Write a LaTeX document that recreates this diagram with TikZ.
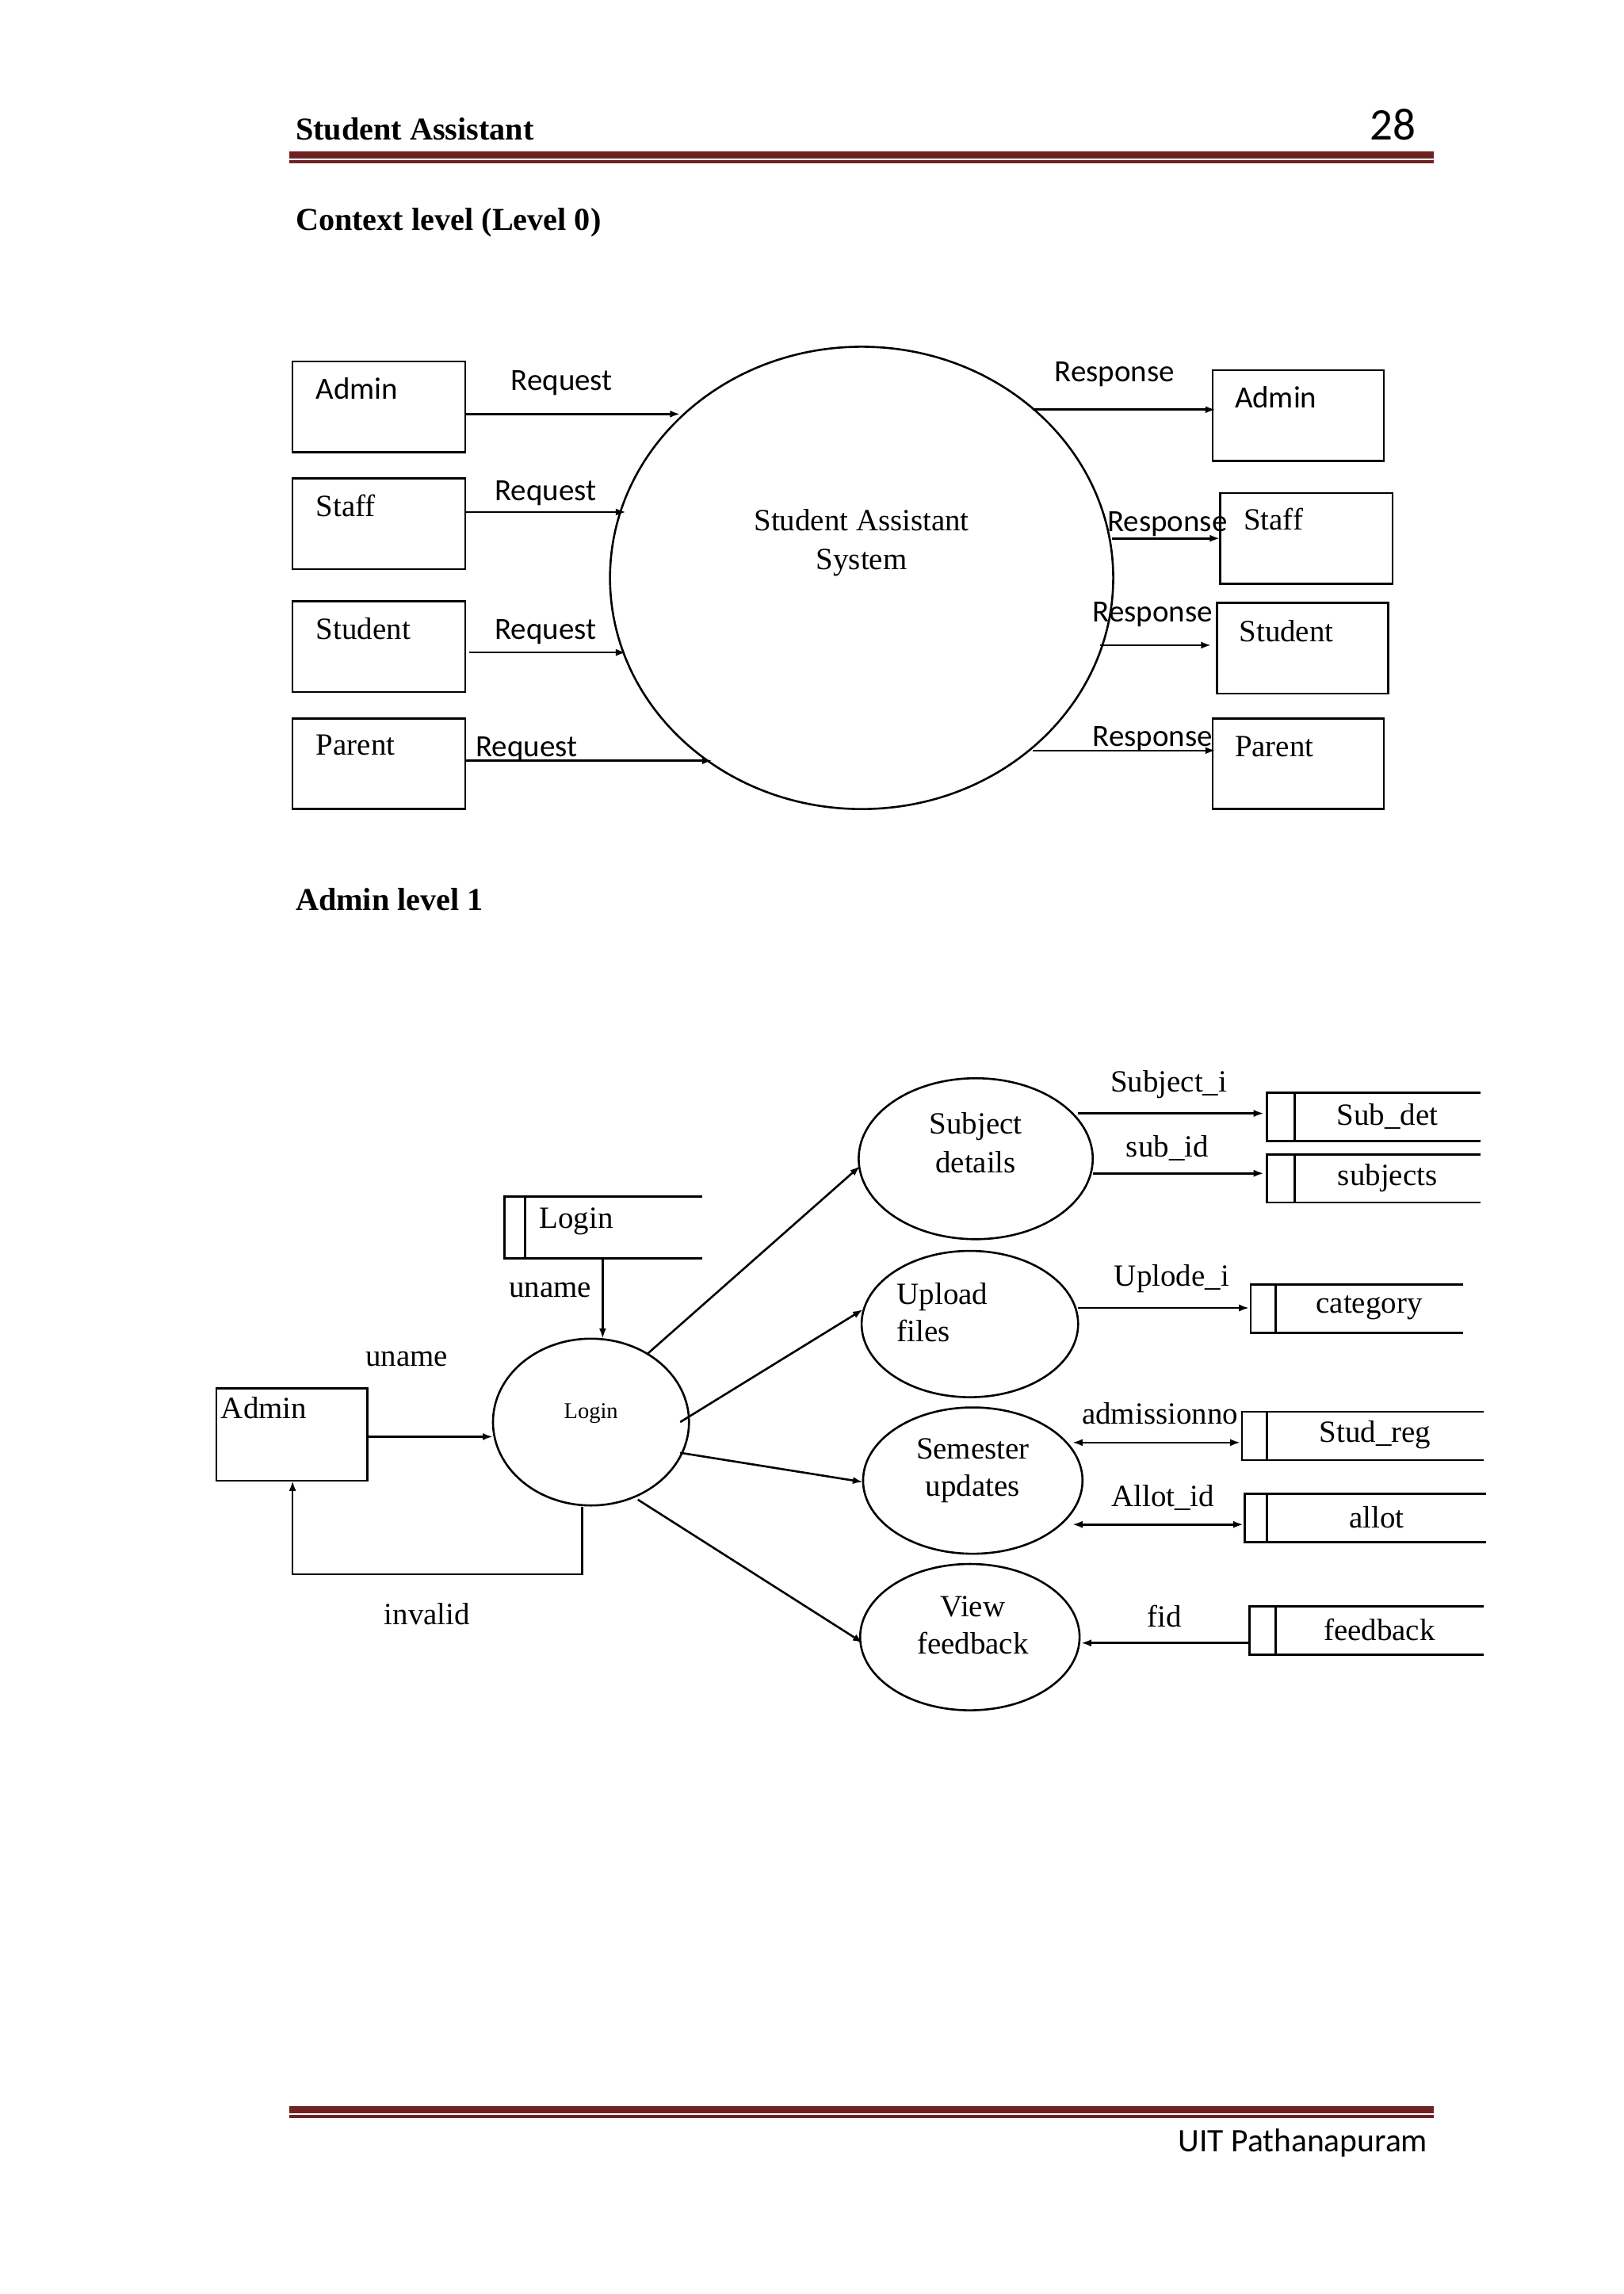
\documentclass[tikz,border=0pt]{standalone}
\usepackage{fontspec}
\setmainfont{Liberation Serif}
\newfontfamily\calfont{Carlito}
\usetikzlibrary{arrows.meta}
\definecolor{maroon}{RGB}{110,35,35}
\begin{document}
\begin{tikzpicture}[x=0.05cm,y=-0.05cm,
  txt/.style={font=\fontsize{30}{34}\selectfont,inner sep=0pt},
  ctxt/.style={font=\calfont\fontsize{30}{34}\selectfont,inner sep=0pt},
  ent/.style={draw,line width=2pt},
  arr/.style={-{Latex[length=10pt,width=7pt]},line width=2pt},
  barr/.style={{Latex[length=10pt,width=7pt]}-{Latex[length=10pt,width=7pt]},line width=2pt},
  ln/.style={line width=2pt}]
\useasboundingbox[fill=white] (0,0) rectangle (1110,1568);
% header
\node[txt,anchor=west,font=\bfseries\fontsize{31}{34}\selectfont] (h1) at (202,88) {Student Assistant};
\node[txt,anchor=east,font=\calfont\fontsize{44}{48}\selectfont] (h2) at (968,85) {28};
\fill[maroon] (198,103.5) rectangle (980,108.5);
\fill[maroon] (198,109.5) rectangle (980,111.5);
\node[txt,anchor=west,font=\bfseries\fontsize{31}{34}\selectfont] (t1) at (202,152) {Context level (Level 0)};
% context
\draw[ln] (589,395) ellipse [x radius=172,y radius=158];
\node[txt,align=center] (st) at (589,371) {Student Assistant\\[4pt]System};
\draw[ent] (200,247) rectangle (318,309); \node[ctxt,anchor=north west] (a1) at (216,258) {Admin};
\draw[ent] (200,327) rectangle (318,389); \node[txt,anchor=north west] (s1) at (216,338) {Staff};
\draw[ent] (200,411) rectangle (318,473); \node[txt,anchor=north west] (u1) at (216,422) {Student};
\draw[ent] (200,491) rectangle (318,553); \node[txt,anchor=north west] (p1) at (216,502) {Parent};
\draw[ent] (829,253) rectangle (946,315); \node[ctxt,anchor=north west] (a2) at (844,264) {Admin};
\draw[ent] (834,337) rectangle (952,399); \node[txt,anchor=north west] (s2) at (850,347) {Staff};
\draw[ent] (832,412) rectangle (949,474); \node[txt,anchor=north west] (u2) at (847,424) {Student};
\draw[ent] (829,491) rectangle (946,553); \node[txt,anchor=north west] (p2) at (844,503) {Parent};
\draw[arr] (318,283) -- (465,283); \node[ctxt] (r1) at (384,262) {Request};
\draw[arr] (318,350) -- (428,350); \node[ctxt] (r2) at (373,337) {Request};
\draw[arr] (321,446) -- (428,446); \node[ctxt] (r3) at (373,432) {Request};
\draw[arr] (318,520) -- (487,520); \node[ctxt] (r4) at (360,512) {Request};
\draw[arr] (706,280) -- (831,280); \node[ctxt] (q1) at (762,256) {Response};
\draw[arr] (760,368) -- (834,368); \node[ctxt] (q2) at (798,358) {Response};
\draw[arr] (752,441) -- (828,441); \node[ctxt] (q3) at (788,420) {Response};
\draw[arr] (706,513) -- (831,513); \node[ctxt] (q4) at (788,505) {Response};
% admin level 1
\node[txt,anchor=west,font=\bfseries\fontsize{31}{34}\selectfont] (t2) at (202,615) {Admin level 1};
\draw[ent] (148,949) rectangle (251,1012); \node[txt,anchor=north west] (ad) at (151,955) {Admin};
\draw[ln] (404,972) ellipse [x radius=67,y radius=57];
\node[txt,font=\fontsize{22}{26}\selectfont] (lg) at (404,966) {Login};
\draw[ln] (480,818) -- (345,818) -- (345,860) -- (480,860); \draw[ln] (359,818) -- (359,860);
\node[txt] (ls) at (394,835) {Login};
\draw[arr] (412,860) -- (412,915); \node[txt] (un1) at (376,882) {uname};
\draw[arr] (251,982) -- (337,982); \node[txt] (un2) at (278,929) {uname};
\draw[arr] (398,1030) -- (398,1076) -- (200,1076) -- (200,1012);
\node[txt] (inv) at (292,1103) {invalid};
\draw[ln] (667,792) ellipse [x radius=80,y radius=55];
\node[txt,align=center] (p_1) at (667,781) {Subject\\[4pt]details};
\draw[ln] (663,905) ellipse [x radius=74,y radius=50];
\node[txt,align=left,anchor=west] (p_2) at (613,897) {Upload\\[2pt]files};
\draw[ln] (665,1012) ellipse [x radius=75,y radius=50];
\node[txt,align=center] (p_3) at (665,1005) {Semester\\[2pt]updates};
\draw[ln] (663,1119) ellipse [x radius=75,y radius=50];
\node[txt,align=center] (p_4) at (665,1111) {View\\[2pt]feedback};
\draw[arr] (443,925) -- (588,797);
\draw[arr] (465,972) -- (590,895);
\draw[arr] (465,993) -- (590,1013);
\draw[arr] (436,1025) -- (590,1123);
\foreach \a/\b/\c/\i/\t/\n in {866/747/1012/885/Sub\_det/d1, 866/789/1012/885/subjects/d2, 855/878/1000/872/category/d3, 849/965/1014/866/Stud\_reg/d4, 851/1021/1016/866/allot/d5, 854/1098/1014/872/feedback/d6}{
  \draw[ln] (\c,\b) -- (\a,\b) -- (\a,\b+33) -- (\c,\b+33); \draw[ln] (\i,\b) -- (\i,\b+33);
  \node[txt] (\n) at ({(\i+\c)/2},\b+16) {\t};}
\draw[arr] (737,761) -- (864,761); \node[txt] (l1) at (799,741) {Subject\_i};
\draw[arr] (747,802) -- (864,802); \node[txt] (l2) at (798,785) {sub\_id};
\draw[arr] (737,894) -- (854,894); \node[txt] (l3) at (801,874) {Uplode\_i};
\draw[barr] (733,986) -- (848,986); \node[txt] (l4) at (793,966) {admissionno};
\draw[barr] (733,1042) -- (850,1042); \node[txt] (l5) at (795,1024) {Allot\_id};
\draw[arr] (854,1123) -- (739,1123); \node[txt] (l6) at (796,1105) {fid};
% footer
\fill[maroon] (198,1439.5) rectangle (980,1444.5);
\fill[maroon] (198,1445.5) rectangle (980,1447.5);
\node[txt,anchor=east,font=\calfont\fontsize{32}{36}\selectfont] (ft) at (976,1465) {UIT Pathanapuram};
\end{tikzpicture}
\end{document}
